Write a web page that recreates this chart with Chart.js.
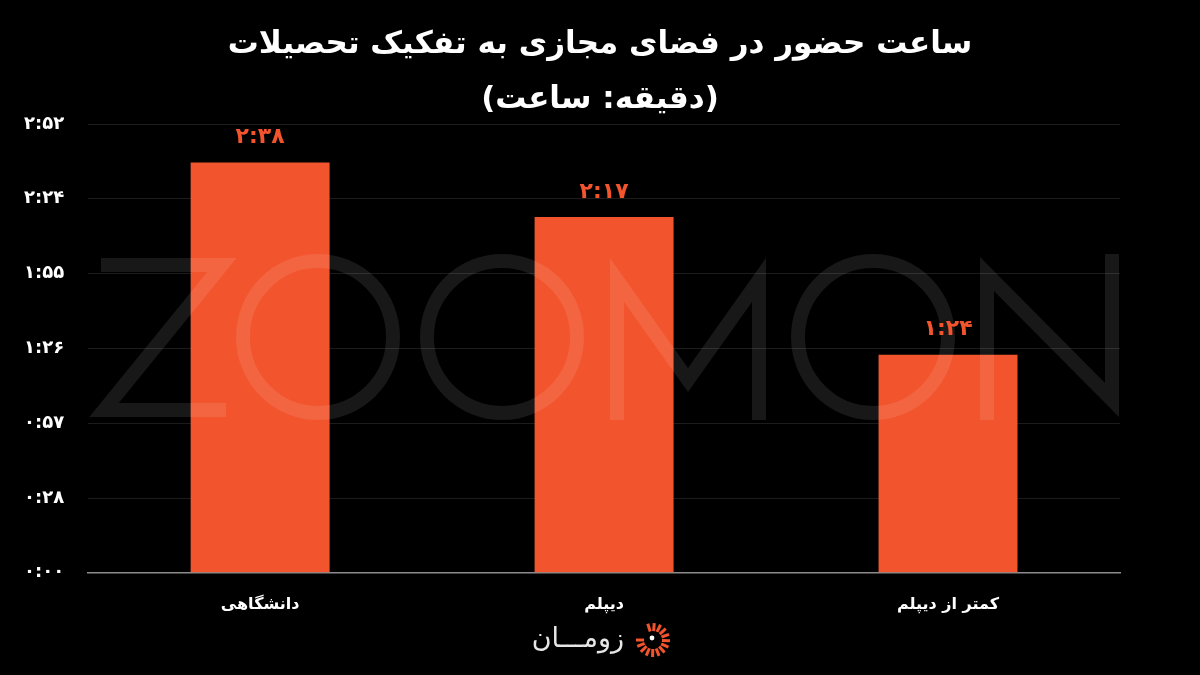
<!DOCTYPE html>
<html>
<head>
<meta charset="utf-8">
<script src="https://cdn.jsdelivr.net/npm/chart.js@4"></script>
<style>
  html, body { margin: 0; padding: 0; background: #000; }
  #wrap { width: 1200px; height: 675px; }
</style>
</head>
<body>
<div id="wrap"><canvas id="barChart" width="1200" height="675"></canvas></div>
<script>
// datos
var categorias = ['دانشگاهی', 'دیپلم', 'کمتر از دیپلم'];
var minutos = [158, 137, 84]; // ۲:۳۸ ، ۲:۱۷ ، ۱:۲۴
var yPaso = 28.8;
var yMax = 172.8;
var titulo = ['ساعت حضور در فضای مجازی به تفکیک تحصیلات', '(دقیقه: ساعت)'];

var naranja = '#F2542D';
var fuente = '"DejaVu Sans", sans-serif';

function aPersa(s) {
    var dig = '۰۱۲۳۴۵۶۷۸۹';
    return String(s).replace(/[0-9]/g, function (d) { return dig[+d]; });
}

function formatoHora(v) {
    var m = Math.floor(v + 1e-6);
    var h = Math.floor(m / 60);
    var mm = m % 60;
    return aPersa(h + ':' + (mm < 10 ? '0' : '') + mm);
}

var extras = {
    id: 'extras',
    beforeDraw: function (chart) {
        var ctx = chart.ctx;
        ctx.save();
        ctx.fillStyle = '#000';
        ctx.fillRect(0, 0, chart.width, chart.height);
        // titulo centrado en el lienzo
        ctx.fillStyle = '#fff';
        ctx.font = 'bold 31px ' + fuente;
        ctx.textAlign = 'center';
        ctx.textBaseline = 'middle';
        ctx.fillText(titulo[0], 600, 45);
        ctx.fillText(titulo[1], 600, 100);
        ctx.restore();
    },
    afterDatasetsDraw: function (chart) {
        var ctx = chart.ctx;
        // marca de agua ZOOMON
        ctx.save();
        ctx.strokeStyle = 'rgba(255,255,255,0.095)';
        ctx.lineWidth = 14;
        ctx.lineJoin = 'miter';
        ctx.beginPath();
        // Z
        ctx.moveTo(101, 265); ctx.lineTo(222, 265); ctx.lineTo(104, 410); ctx.lineTo(226, 410);
        // O O
        ctx.moveTo(318 + 75, 337); ctx.ellipse(318, 337, 75, 76, 0, 0, Math.PI * 2);
        ctx.moveTo(502 + 75, 337); ctx.ellipse(502, 337, 75, 76, 0, 0, Math.PI * 2);
        // M
        ctx.moveTo(617, 420); ctx.lineTo(617, 280); ctx.lineTo(688, 380); ctx.lineTo(759, 280); ctx.lineTo(759, 420);
        // O
        ctx.moveTo(873 + 75, 337); ctx.ellipse(873, 337, 75, 76, 0, 0, Math.PI * 2);
        // N
        ctx.moveTo(987, 420); ctx.lineTo(987, 274); ctx.lineTo(1112, 400); ctx.lineTo(1112, 254);
        ctx.stroke();
        ctx.restore();

        // etiquetas de valores
        var meta = chart.getDatasetMeta(0);
        ctx.save();
        ctx.fillStyle = naranja;
        ctx.font = 'bold 22px ' + fuente;
        ctx.textAlign = 'center';
        ctx.textBaseline = 'middle';
        meta.data.forEach(function (barra, i) {
            ctx.fillText(formatoHora(minutos[i]), barra.x, barra.y - 25);
        });
        ctx.restore();
    },
    afterDraw: function (chart) {
        var ctx = chart.ctx;
        // logo
        ctx.save();
        ctx.fillStyle = '#e6e6e6';
        ctx.font = '27px ' + fuente;
        ctx.textAlign = 'right';
        ctx.textBaseline = 'middle';
        ctx.fillText('زومـــان', 624, 640);
        var cx = 653, cy = 640;
        ctx.strokeStyle = naranja;
        ctx.lineWidth = 3;
        for (var k = 0; k < 14; k++) {
            var a = -Math.PI * 0.6 + k * (Math.PI * 1.6 / 13);
            ctx.beginPath();
            ctx.moveTo(cx + Math.cos(a) * 9, cy + Math.sin(a) * 9);
            ctx.lineTo(cx + Math.cos(a) * 17, cy + Math.sin(a) * 17);
            ctx.stroke();
        }
        ctx.fillStyle = '#fff';
        ctx.beginPath();
        ctx.arc(cx - 1, cy - 2, 2.4, 0, Math.PI * 2);
        ctx.fill();
        ctx.restore();
    }
};

var ctx = document.getElementById('barChart').getContext('2d');
var myChart = new Chart(ctx, {
    type: 'bar',
    data: {
        labels: categorias,
        datasets: [{
            data: minutos,
            backgroundColor: naranja,
            borderWidth: 0,
            barPercentage: 0.404,
            categoryPercentage: 1
        }]
    },
    options: {
        responsive: false,
        animation: false,
        layout: { padding: { left: 0, right: 80, top: 124, bottom: 47 } },
        plugins: {
            legend: { display: false },
            tooltip: { enabled: false },
            title: { display: false }
        },
        scales: {
            x: {
                grid: { display: false },
                border: { color: '#8c8c8c', width: 1.5 },
                ticks: { color: '#fff', font: { family: fuente, size: 16, weight: 'bold' }, padding: 14 }
            },
            y: {
                min: 0,
                max: yMax,
                grid: { color: '#1c1c1c', drawTicks: false },
                border: { display: false },
                ticks: {
                    stepSize: yPaso,
                    color: '#fff',
                    padding: 24,
                    font: { family: fuente, size: 18, weight: 'bold' },
                    callback: function (v) { return formatoHora(v); }
                }
            }
        }
    },
    plugins: [extras]
});
</script>
</body>
</html>
